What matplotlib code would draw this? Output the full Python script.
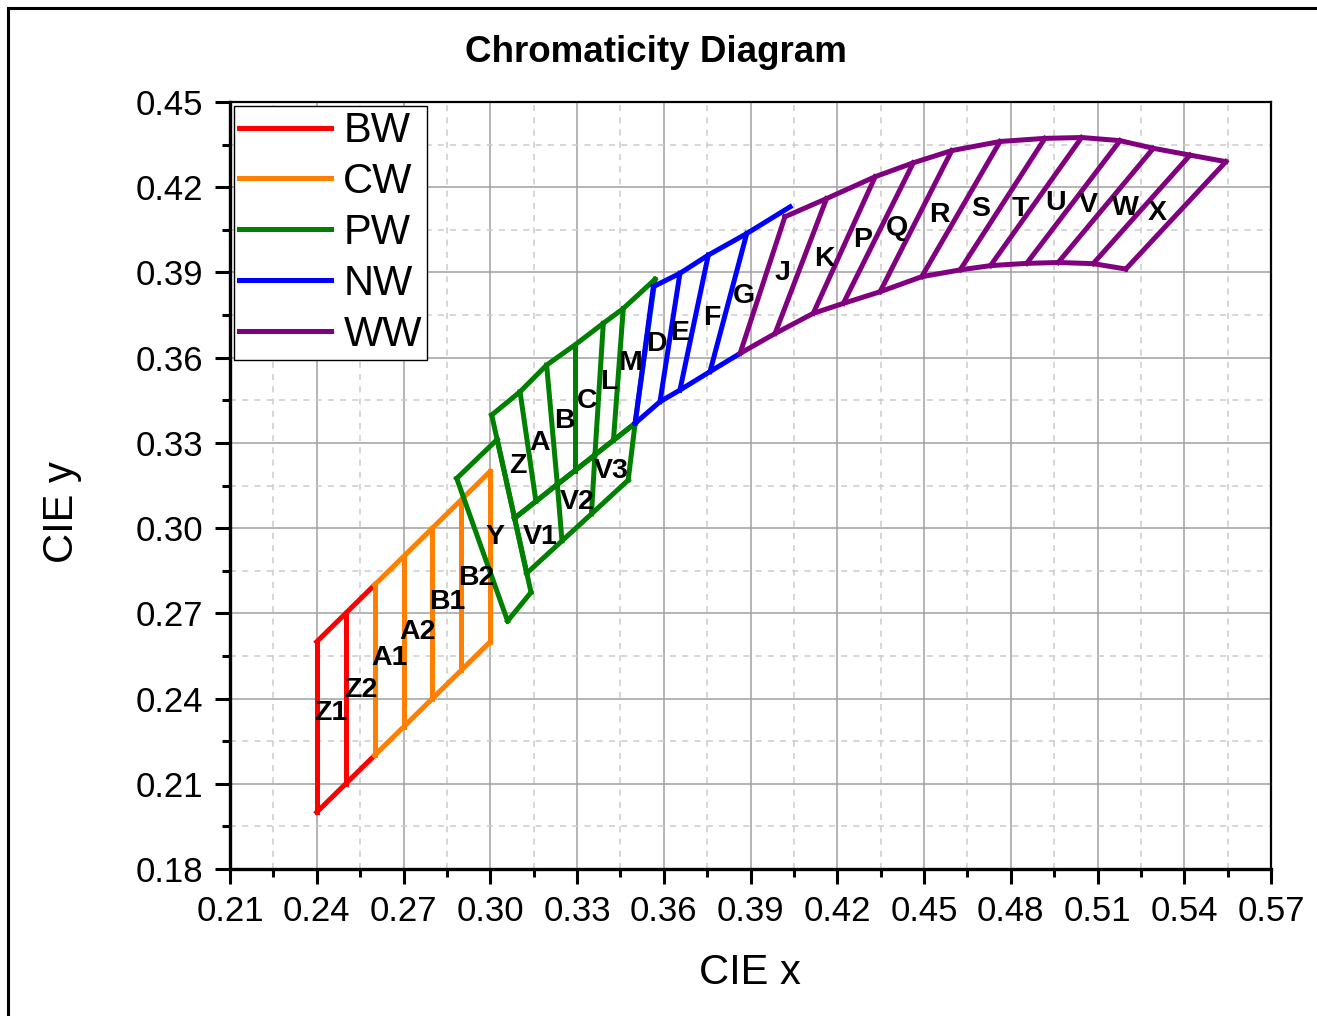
"""Chromaticity diagram with the LED colour bins (BW, CW, PW, NW, WW) drawn as hatched bands."""
import matplotlib.pyplot as plt
from matplotlib.lines import Line2D
from matplotlib.patches import Rectangle
from matplotlib.ticker import MultipleLocator

plt.rcParams['font.family'] = ['Liberation Sans', 'DejaVu Sans']

# ---- bin outlines: points along the upper and lower edge of each band ----
bw_top_x = [0.24, 0.25, 0.26]
bw_top_y = [0.26, 0.27, 0.28]
bw_bot_x = [0.24, 0.25, 0.26]
bw_bot_y = [0.20, 0.21, 0.22]

cw_top_x = [0.26, 0.27, 0.28, 0.29, 0.30]
cw_top_y = [0.28, 0.29, 0.30, 0.31, 0.32]
cw_bot_x = [0.26, 0.27, 0.28, 0.29, 0.30]
cw_bot_y = [0.22, 0.23, 0.24, 0.25, 0.26]

# PW is made of three pieces: the Y cell, the upper row (Z..M) and the lower row (V1..V3)
pwy_top_x = [0.2884, 0.3024]
pwy_top_y = [0.3175, 0.3312]
pwy_bot_x = [0.3060, 0.3141]
pwy_bot_y = [0.2673, 0.2774]

pwu_top_x = [0.3005, 0.3103, 0.3195, 0.3293, 0.3391, 0.3460, 0.3570]
pwu_top_y = [0.3398, 0.3480, 0.3574, 0.3645, 0.3721, 0.3773, 0.3876]
pwu_bot_x = [0.3084, 0.3158, 0.3232, 0.3293, 0.3362, 0.3426, 0.3501]
pwu_bot_y = [0.3035, 0.3094, 0.3154, 0.3202, 0.3258, 0.3309, 0.3369]

pwl_top_x = [0.3084, 0.3232, 0.3362, 0.3501]
pwl_top_y = [0.3035, 0.3154, 0.3258, 0.3369]
pwl_bot_x = [0.3126, 0.3248, 0.3350, 0.3477]
pwl_bot_y = [0.2841, 0.2955, 0.3050, 0.3169]

nw_top_x = [0.3564, 0.3656, 0.3754, 0.3887, 0.4037]
nw_top_y = [0.3850, 0.3897, 0.3961, 0.4037, 0.4131]
nw_bot_x = [0.3501, 0.3587, 0.3656, 0.3760, 0.3864]
nw_bot_y = [0.3369, 0.3445, 0.3486, 0.3551, 0.3615]

ww_top_x = [0.4019, 0.4163, 0.4331, 0.4463, 0.4596, 0.4763, 0.4918, 0.5045,
            0.5178, 0.5293, 0.5420, 0.5544]
ww_top_y = [0.4096, 0.4160, 0.4237, 0.4286, 0.4329, 0.4361, 0.4372, 0.4375,
            0.4364, 0.4337, 0.4313, 0.4290]
ww_bot_x = [0.3864, 0.3985, 0.4117, 0.4221, 0.4348, 0.4492, 0.4625, 0.4730,
            0.4855, 0.4964, 0.5085, 0.5198]
ww_bot_y = [0.3615, 0.3685, 0.3756, 0.3791, 0.3832, 0.3885, 0.3909, 0.3924,
            0.3932, 0.3935, 0.3931, 0.3912]

# ---- cell names and where they are written ----
cell_names = ['Z1', 'Z2', 'A1', 'A2', 'B1', 'B2', 'Y', 'V1', 'V2', 'V3',
              'Z', 'A', 'B', 'C', 'L', 'M', 'D', 'E', 'F', 'G',
              'J', 'K', 'P', 'Q', 'R', 'S', 'T', 'U', 'V', 'W', 'X']
cell_x = [0.2449, 0.2553, 0.2653, 0.2750, 0.2850, 0.2951, 0.3016, 0.3172, 0.3300, 0.3418,
          0.3096, 0.3172, 0.3258, 0.3335, 0.3411, 0.3483, 0.3573, 0.3656, 0.3767, 0.3878,
          0.4009, 0.4154, 0.4289, 0.4407, 0.4552, 0.4697, 0.4832, 0.4956, 0.5067, 0.5195, 0.5306]
cell_y = [0.2349, 0.2430, 0.2543, 0.2634, 0.2740, 0.2824, 0.2969, 0.2969, 0.3092, 0.3201,
          0.3219, 0.3300, 0.3377, 0.3447, 0.3514, 0.3581, 0.3648, 0.3687, 0.3740, 0.3817,
          0.3898, 0.3947, 0.4014, 0.4056, 0.4102, 0.4123, 0.4123, 0.4144, 0.4137, 0.4127, 0.4109]

groups = ['BW', 'CW', 'PW', 'NW', 'WW']
colors = ['#FF0000', '#FF8000', '#008000', '#0000FF', '#800080']

LW = 3.6


def draw_band(ax, tx, ty, bx, by, color, close_right=True):
    ax.plot(tx, ty, color=color, lw=LW)
    ax.plot(bx, by, color=color, lw=LW)
    n = len(tx) if close_right else len(tx) - 1
    for i in range(n):
        ax.plot([tx[i], bx[i]], [ty[i], by[i]], color=color, lw=LW)


fig = plt.figure(figsize=(13.17, 10.16), dpi=100)
ax = fig.add_axes([230/1317, 1-869/1016, (1271-230)/1317, (869-102)/1016])

draw_band(ax, bw_top_x, bw_top_y, bw_bot_x, bw_bot_y, colors[0])
draw_band(ax, cw_top_x, cw_top_y, cw_bot_x, cw_bot_y, colors[1])
draw_band(ax, pwy_top_x, pwy_top_y, pwy_bot_x, pwy_bot_y, colors[2])
draw_band(ax, pwu_top_x, pwu_top_y, pwu_bot_x, pwu_bot_y, colors[2])
draw_band(ax, pwl_top_x, pwl_top_y, pwl_bot_x, pwl_bot_y, colors[2])
draw_band(ax, nw_top_x, nw_top_y, nw_bot_x, nw_bot_y, colors[3], close_right=False)
draw_band(ax, ww_top_x, ww_top_y, ww_bot_x, ww_bot_y, colors[4])

for name, x, y in zip(cell_names, cell_x, cell_y):
    ax.text(x, y, name, ha='center', va='center', fontsize=20.5, fontweight='bold', zorder=5)

ax.set_xlim(0.21, 0.57)
ax.set_ylim(0.18, 0.45)
ax.xaxis.set_major_locator(MultipleLocator(0.03))
ax.xaxis.set_minor_locator(MultipleLocator(0.015))
ax.yaxis.set_major_locator(MultipleLocator(0.03))
ax.yaxis.set_minor_locator(MultipleLocator(0.015))
ax.xaxis.set_major_formatter(lambda v, p: '%.2f' % v)
ax.yaxis.set_major_formatter(lambda v, p: '%.2f' % v)

ax.grid(which='major', color='#a0a0a0', lw=1.1)
ax.grid(which='minor', color='#cccccc', lw=1.1, ls=(0, (4, 4)))
ax.set_axisbelow(True)

ax.tick_params(which='major', direction='out', length=11, width=2.2, labelsize=25, pad=8)
ax.tick_params(which='minor', direction='out', length=5.5, width=2.2)
for s in ['left', 'bottom']:
    ax.spines[s].set_linewidth(2.4)
for s in ['top', 'right']:
    ax.spines[s].set_linewidth(1.6)

handles = [Line2D([], [], color=c, lw=LW) for c in colors]
leg = ax.legend(handles, groups, loc='upper left', bbox_to_anchor=(0, 1), borderaxespad=0.1,
                fontsize=30, handlelength=2.2, handletextpad=0.3, labelspacing=0.26,
                borderpad=0.12, fancybox=False, framealpha=1, edgecolor='black')
leg.get_frame().set_linewidth(1.0)

fig.text(656/1317, 1-53/1016, 'Chromaticity Diagram', ha='center', va='center',
         fontsize=26.5, fontweight='bold')
fig.text(750/1317, 1-973/1016, 'CIE x', ha='center', va='center', fontsize=30)
fig.text(62/1317, 1-512/1016, 'CIE y', ha='center', va='center', fontsize=30, rotation=90)

fig.patches.append(Rectangle((8/1317, -0.1), 1.2, 1-8/1016+0.1, transform=fig.transFigure,
                             fill=False, edgecolor='black', lw=2.2))

fig.savefig('out.png', dpi=100)
